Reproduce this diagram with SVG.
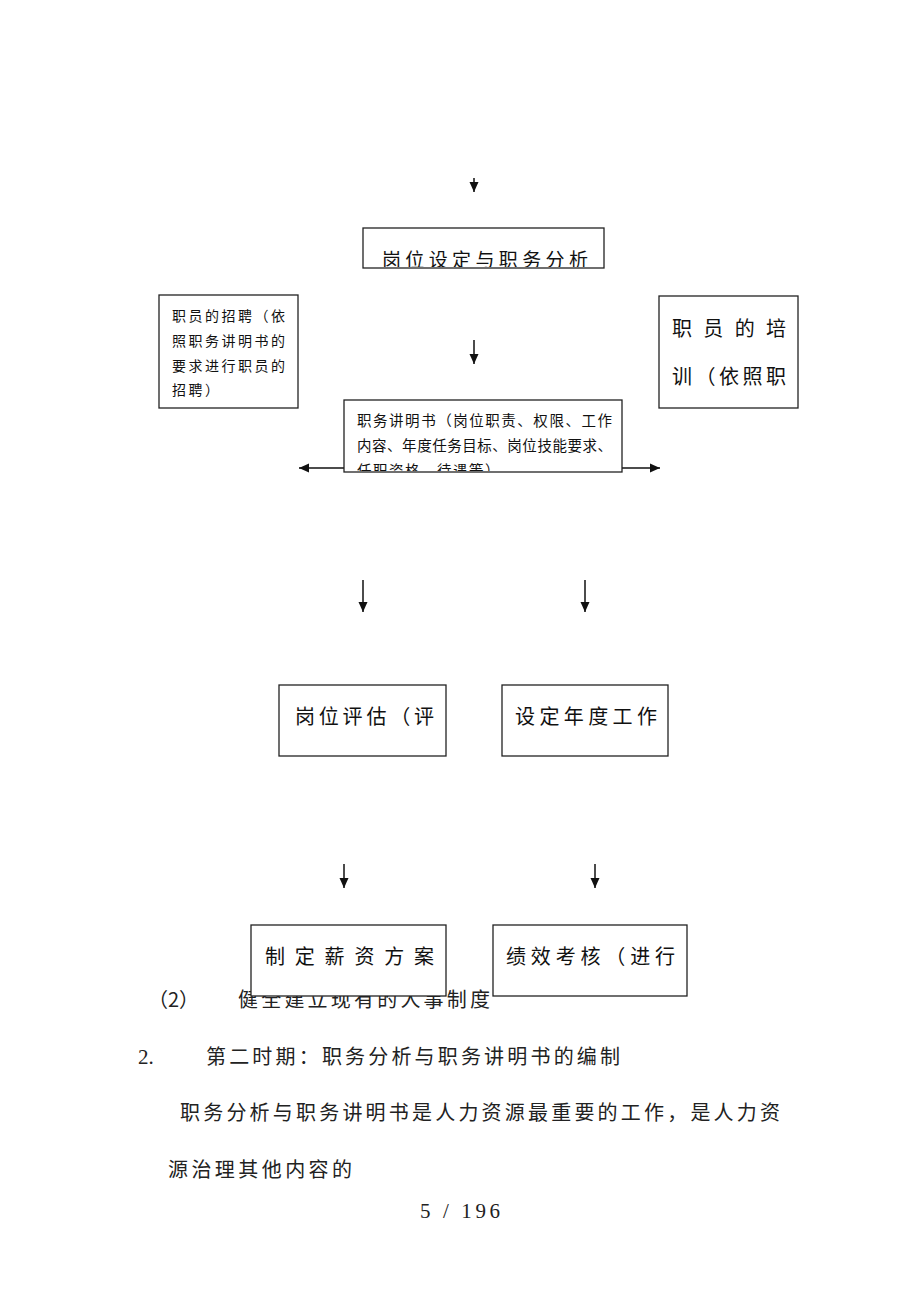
<svg xmlns="http://www.w3.org/2000/svg" width="920" height="1302" viewBox="0 0 920 1302">
<style>
.cn{font-family:"Noto Sans CJK SC","Noto Sans",sans-serif;fill:#111}
.body{font-family:"Noto Sans CJK SC","Noto Sans",sans-serif;font-size:20px;fill:#222}
.box{fill:#fff;stroke:#222;stroke-width:1.3}
.ln{stroke:#111;stroke-width:1.5;fill:none}
.num{font-family:"Liberation Serif",serif;font-size:21px;fill:#222}
</style>
<defs>
<marker id="ah" viewBox="0 0 10 10" refX="10" refY="5" markerWidth="10" markerHeight="11" markerUnits="userSpaceOnUse" orient="auto-start-reverse">
<path d="M0,0.5 L10,5 L0,9.5 z" fill="#111"/>
</marker>
<clipPath id="c1"><rect x="363" y="228" width="241" height="39"/></clipPath>
<clipPath id="c2"><rect x="344" y="400" width="278" height="71"/></clipPath>
</defs>
<rect width="920" height="1302" fill="#fff"/>

<g id="page-text">
<text class="body" x="148" y="1007">（2）</text>
<text class="body" x="238" y="1007" textLength="252" lengthAdjust="spacing">健全建立现有的人事制度</text>
<text class="num" x="138" y="1064">2.</text>
<text class="body" x="206" y="1064" textLength="414" lengthAdjust="spacing">第二时期：职务分析与职务讲明书的编制</text>
<text class="body" x="180" y="1120" textLength="600" lengthAdjust="spacing">职务分析与职务讲明书是人力资源最重要的工作，是人力资</text>
<text class="body" x="168" y="1177" textLength="184" lengthAdjust="spacing">源治理其他内容的</text>
<text class="num" x="420" y="1218" textLength="80" lengthAdjust="spacing">5 / 196</text>
</g>

<g id="connectors">
<line class="ln" x1="474" y1="178" x2="474" y2="192" marker-end="url(#ah)"/>
<line class="ln" x1="474" y1="340" x2="474" y2="364" marker-end="url(#ah)"/>
<line class="ln" x1="299" y1="468" x2="660" y2="468" marker-start="url(#ah)" marker-end="url(#ah)"/>
<line class="ln" x1="363" y1="580" x2="363" y2="612" marker-end="url(#ah)"/>
<line class="ln" x1="585" y1="580" x2="585" y2="612" marker-end="url(#ah)"/>
<line class="ln" x1="344" y1="864" x2="344" y2="888" marker-end="url(#ah)"/>
<line class="ln" x1="595" y1="864" x2="595" y2="888" marker-end="url(#ah)"/>
</g>

<g id="node-gwsd">
<rect class="box" x="363" y="228" width="241" height="40"/>
<g clip-path="url(#c1)">
<text class="cn" x="382" y="267" font-size="19" textLength="206" lengthAdjust="spacing">岗位设定与职务分析</text>
</g>
</g>

<g id="node-zhaopin">
<rect class="box" x="159" y="295" width="139" height="113"/>
<text class="cn" x="172" y="321" font-size="14" letter-spacing="2.5">职员的招聘（依</text>
<text class="cn" x="172" y="346" font-size="14" letter-spacing="2.5">照职务讲明书的</text>
<text class="cn" x="172" y="371" font-size="14" letter-spacing="2.5">要求进行职员的</text>
<text class="cn" x="172" y="395" font-size="14" letter-spacing="2.5">招聘）</text>
</g>

<g id="node-peixun">
<rect class="box" x="659" y="296" width="139" height="112"/>
<text class="cn" x="672" y="336" font-size="20" textLength="114" lengthAdjust="spacing">职员的培</text>
<text class="cn" x="672" y="384" font-size="20" textLength="114" lengthAdjust="spacing">训（依照职</text>
</g>

<g id="node-shuomingshu">
<rect class="box" x="344" y="400" width="278" height="72"/>
<g clip-path="url(#c2)">
<text class="cn" x="357" y="426" font-size="14.5" textLength="255" lengthAdjust="spacing">职务讲明书（岗位职责、权限、工作</text>
<text class="cn" x="357" y="451" font-size="14.5" textLength="255" lengthAdjust="spacing">内容、年度任务目标、岗位技能要求、</text>
<text class="cn" x="357" y="476" font-size="14.5" letter-spacing="1.5">任职资格、待遇等）</text>
</g>
</g>

<g id="node-pinggu">
<rect class="box" x="279" y="685" width="167" height="71"/>
<text class="cn" x="295" y="724" font-size="20" textLength="139" lengthAdjust="spacing">岗位评估（评</text>
</g>

<g id="node-niandu">
<rect class="box" x="502" y="685" width="166" height="71"/>
<text class="cn" x="515" y="724" font-size="20" textLength="142" lengthAdjust="spacing">设定年度工作</text>
</g>

<g id="node-xinzi">
<rect class="box" x="251" y="925" width="195" height="71"/>
<text class="cn" x="265" y="964" font-size="20" textLength="169" lengthAdjust="spacing">制定薪资方案</text>
</g>

<g id="node-jixiao">
<rect class="box" x="493" y="925" width="194" height="71"/>
<text class="cn" x="506" y="964" font-size="20" textLength="169" lengthAdjust="spacing">绩效考核（进行</text>
</g>
</svg>
